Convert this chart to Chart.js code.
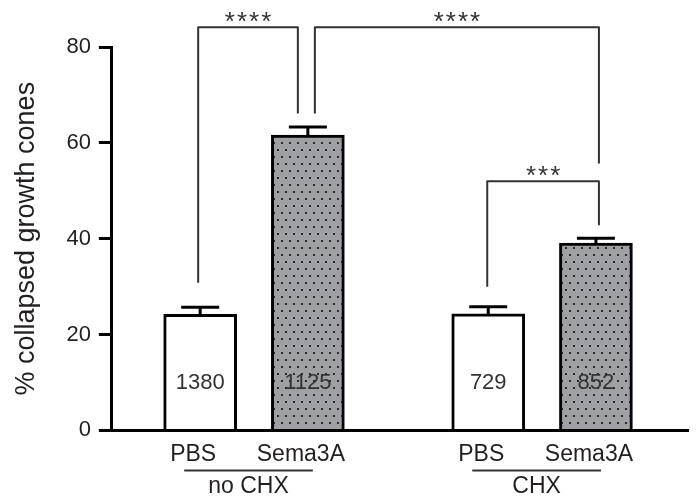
<!DOCTYPE html>
<html>
<head>
<meta charset="utf-8">
<script src="https://cdn.jsdelivr.net/npm/chart.js@4"></script>
<style>
  html, body { margin: 0; padding: 0; background: #fff; }
  #wrap { width: 696px; height: 500px; }
</style>
</head>
<body>
<div id="wrap"><canvas id="chart"></canvas></div>
<script>
// values
const groups = ['no CHX', 'CHX']
const treatments = ['PBS', 'Sema3A']
const collapsed = [24.2, 61.6, 24.3, 39.1]      // mean % collapsed
const sem = [1.5, 1.7, 1.5, 1.0]
const counts = ['1380', '1125', '729', '852']   // n growth cones per bar
const yTicks = [0, 20, 40, 60, 80]

// significance brackets (bar index from / to, stars, bracket height, leg ends)
const sigFrom = [0, 1, 2]
const sigTo = [1, 3, 3]
const sigStars = ['****', '****', '***']
const sigTop = [84.1, 84.1, 52.0]
const sigFromEnd = [30.8, 66.1, 30.0]
const sigToEnd = [66.1, 55.7, 42.8]

const FONT = '"Liberation Sans", Arial, sans-serif'
const INK = '#231f20'
Chart.defaults.font.family = FONT
Chart.defaults.color = INK

// bars sit in pairs, with a wider gap between the two groups
const groupGap = 1.675
const barX = collapsed.map((v, i) => 1 + (i % 2) + Math.floor(i / 2) * (1 + groupGap))
const legShift = [[-2, -10], [7, 3], [-1, 3]]

// staggered dot screen on grey, like the original print
function dotPattern() {
    const c = document.createElement('canvas')
    c.width = 8; c.height = 14
    const g = c.getContext('2d')
    g.fillStyle = '#9fa0a4'
    g.fillRect(0, 0, 8, 14)
    g.fillStyle = '#2b2b2b'
    g.fillRect(1, 2, 2, 2)
    g.fillRect(5, 9, 2, 2)
    return g.createPattern(c, 'repeat')
}
const dots = dotPattern()

const annotations = {
    id: 'annotations',
    afterDatasetsDraw(chart) {
        const { ctx, chartArea } = chart
        const x = chart.scales.x, y = chart.scales.y
        ctx.save()

        // error bars (SEM, upper only)
        ctx.strokeStyle = '#000'
        ctx.lineWidth = 3
        collapsed.forEach((v, i) => {
            const px = x.getPixelForValue(barX[i])
            const top = y.getPixelForValue(v)
            const hi = y.getPixelForValue(v + sem[i])
            ctx.beginPath()
            ctx.moveTo(px, top)
            ctx.lineTo(px, hi)
            ctx.moveTo(px - 19, hi)
            ctx.lineTo(px + 19, hi)
            ctx.stroke()
        })

        // n inside bars
        ctx.font = '22px ' + FONT
        ctx.fillStyle = '#333'
        ctx.textAlign = 'center'
        ctx.textBaseline = 'middle'
        counts.forEach((n, i) => {
            ctx.fillText(n, x.getPixelForValue(barX[i]), chartArea.bottom - 47)
        })

        // significance brackets
        ctx.strokeStyle = '#333'
        ctx.lineWidth = 2
        ctx.lineJoin = 'round'
        ctx.font = '26px ' + FONT
        ctx.letterSpacing = '2px'
        ctx.textBaseline = 'alphabetic'
        sigFrom.forEach((a, k) => {
            const x1 = x.getPixelForValue(barX[a]) + legShift[k][0]
            const x2 = x.getPixelForValue(barX[sigTo[k]]) + legShift[k][1]
            const yt = y.getPixelForValue(sigTop[k])
            ctx.beginPath()
            ctx.moveTo(x1, y.getPixelForValue(sigFromEnd[k]))
            ctx.lineTo(x1, yt)
            ctx.lineTo(x2, yt)
            ctx.lineTo(x2, y.getPixelForValue(sigToEnd[k]))
            ctx.stroke()
            ctx.fillText(sigStars[k], (x1 + x2) / 2 + 1, yt + 3)
        })
        ctx.letterSpacing = '0px'

        // group underline + name
        ctx.font = '23px ' + FONT
        ctx.fillStyle = INK
        ctx.textBaseline = 'middle'
        groups.forEach((g, k) => {
            const a = x.getPixelForValue(barX[2 * k]) - 16
            const b = x.getPixelForValue(barX[2 * k + 1]) + 5
            const ly = chartArea.bottom + 40
            ctx.beginPath()
            ctx.moveTo(a, ly)
            ctx.lineTo(b, ly)
            ctx.stroke()
            ctx.fillText(g, (a + b) / 2, chartArea.bottom + 56)
        })
        ctx.restore()
    }
}

new Chart(document.getElementById('chart'), {
    type: 'bar',
    data: {
        datasets: [{
            data: collapsed.map((v, i) => ({ x: barX[i], y: v })),
            backgroundColor: collapsed.map((v, i) => i % 2 ? dots : '#fff'),
            borderColor: '#000',
            borderWidth: 3,
            barThickness: 73
        }]
    },
    options: {
        responsive: true,
        maintainAspectRatio: false,
        animation: false,
        layout: { padding: { top: 47, right: 8, bottom: 22, left: 6 } },
        plugins: { legend: { display: false }, tooltip: { enabled: false } },
        scales: {
            x: {
                type: 'linear',
                offset: false,
                min: 0.18,
                max: 5.53,
                grid: { display: false, drawTicks: false },
                border: { color: '#000', width: 3 },
                afterBuildTicks: s => { s.ticks = barX.map(v => ({ value: v })) },
                ticks: {
                    autoSkip: false,
                    maxRotation: 0,
                    padding: 10,
                    labelOffset: -7,
                    font: { size: 23 },
                    callback: (v, i) => treatments[i % 2]
                }
            },
            y: {
                min: 0,
                max: 80,
                afterBuildTicks: s => { s.ticks = yTicks.map(v => ({ value: v })) },
                grid: { drawOnChartArea: false, tickLength: 13, lineWidth: 3, color: '#000' },
                border: { color: '#000', width: 3 },
                ticks: { padding: 8, font: { size: 22 } },
                title: {
                    display: true,
                    text: '% collapsed growth cones',
                    font: { size: 27 },
                    padding: { top: 4, bottom: 16 }
                }
            }
        }
    },
    plugins: [annotations]
})
</script>
</body>
</html>
